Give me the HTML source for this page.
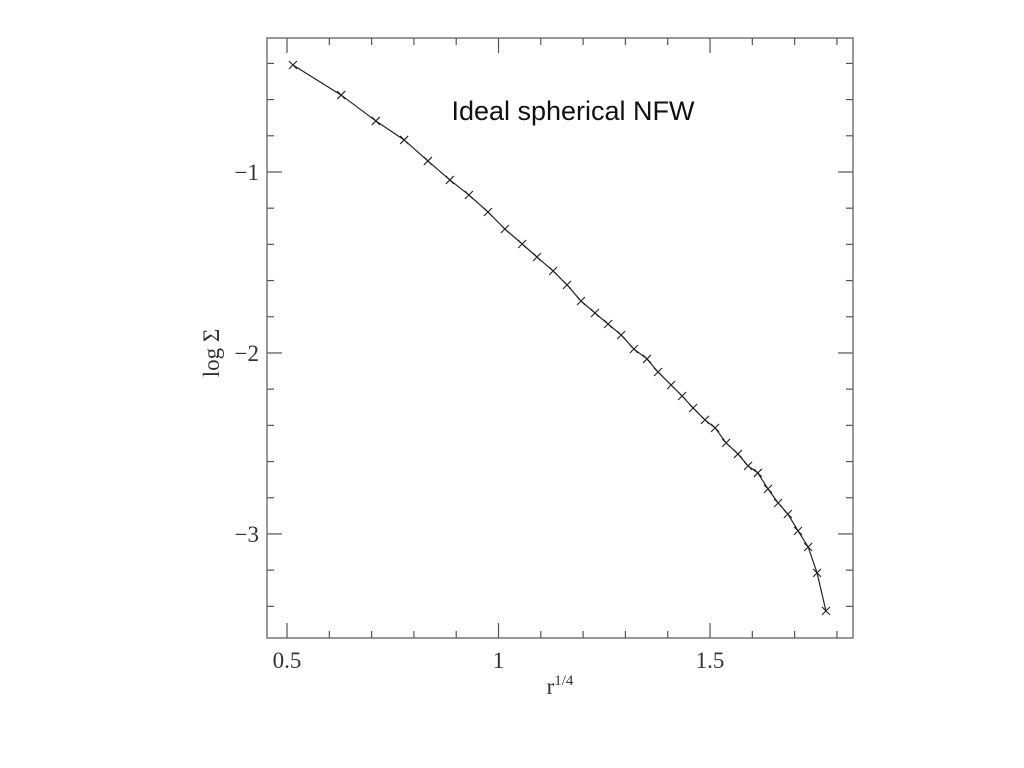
<!DOCTYPE html>
<html><head><meta charset="utf-8"><style>
body{margin:0;background:#fff;}
svg{display:block;}
</style></head><body>
<svg width="1024" height="768" id="c">
<rect x="267" y="38" width="586" height="600" fill="none" stroke="#777" stroke-width="1.5"/>
<g id="ticks" stroke="#555" stroke-width="1.2"></g>
<g id="labels" font-family="Liberation Serif, serif" font-size="23" fill="#333"></g>
<polyline id="line" fill="none" stroke="#222" stroke-width="1.2"/>
<g id="marks" stroke="#222" stroke-width="1.1"></g>
<text x="573" y="120" text-anchor="middle" font-family="Liberation Sans, sans-serif" font-size="27" fill="#111">Ideal spherical NFW</text>
<text transform="translate(219,353) rotate(-90)" text-anchor="middle" font-family="Liberation Serif, serif" font-size="23" fill="#333">log Σ</text>
<text x="560" y="694" text-anchor="middle" font-family="Liberation Serif, serif" font-size="23" fill="#333">r<tspan dy="-9" font-size="15">1/4</tspan></text>
</svg>
<script>
const xVals=[0.514,0.628,0.710,0.777,0.833,0.885,0.930,0.975,1.015,1.056,1.091,1.129,1.162,1.195,1.228,1.259,1.290,1.320,1.351,1.377,1.408,1.434,1.460,1.488,1.512,1.538,1.566,1.590,1.613,1.637,1.661,1.684,1.708,1.732,1.753,1.774];
const yVals=[-0.409,-0.575,-0.718,-0.823,-0.939,-1.044,-1.127,-1.221,-1.315,-1.398,-1.470,-1.547,-1.624,-1.713,-1.779,-1.840,-1.901,-1.978,-2.033,-2.105,-2.177,-2.238,-2.304,-2.370,-2.414,-2.497,-2.558,-2.624,-2.663,-2.751,-2.829,-2.890,-2.983,-3.072,-3.215,-3.425];
const xTicks=[0.5,1,1.5];
const xTickLabels=["0.5","1","1.5"];
const yTicks=[-1,-2,-3];
const yTickLabels=["\u22121","\u22122","\u22123"];
const X0=267,X1=853,Y0=38,Y1=638,xmin=0.4527,xmax=1.838,ymax=-0.2597,ymin=-3.575;
const sx=v=>X0+(v-xmin)/(xmax-xmin)*(X1-X0);
const sy=v=>Y0+(ymax-v)/(ymax-ymin)*(Y1-Y0);
const NS='http://www.w3.org/2000/svg';
const tg=document.getElementById('ticks'),lg=document.getElementById('labels'),mg=document.getElementById('marks');
function ln(g,x1,y1,x2,y2){const l=document.createElementNS(NS,'line');l.setAttribute('x1',x1);l.setAttribute('y1',y1);l.setAttribute('x2',x2);l.setAttribute('y2',y2);


g.appendChild(l);return l;}
for(let i=5;i<=18;i++){const v=i/10,x=sx(v);if(x<X0||x>X1)continue;const L=(i%5==0)?15:7;ln(tg,x,Y1,x,Y1-L);ln(tg,x,Y0,x,Y0+L);}
for(let i=-17;i<=-2;i++){const v=i/5,y=sy(v);if(y<Y0||y>Y1)continue;const L=(i%5==0)?15:7;ln(tg,X0,y,X0+L,y);ln(tg,X1,y,X1-L,y);}
xTicks.forEach((v,i)=>{const t=document.createElementNS(NS,'text');t.setAttribute('x',sx(v));t.setAttribute('y',668);t.setAttribute('text-anchor','middle');t.textContent=xTickLabels[i];


lg.appendChild(t);});
yTicks.forEach((v,i)=>{const t=document.createElementNS(NS,'text');t.setAttribute('x',259);t.setAttribute('y',sy(v)+8);t.setAttribute('text-anchor','end');t.textContent=yTickLabels[i];


lg.appendChild(t);});
document.getElementById('line').setAttribute('points',xVals.map((v,i)=>sx(v)+','+sy(yVals[i])).join(' '));
xVals.forEach((v,i)=>{const x=sx(v),y=sy(yVals[i]),d=4;const g=document.createElementNS(NS,'g');


const a=document.createElementNS(NS,'path');a.setAttribute('d',`M${x-d},${y-d}L${x+d},${y+d}M${x-d},${y+d}L${x+d},${y-d}`);g.appendChild(a);mg.appendChild(g);});
</script>
</body></html>
